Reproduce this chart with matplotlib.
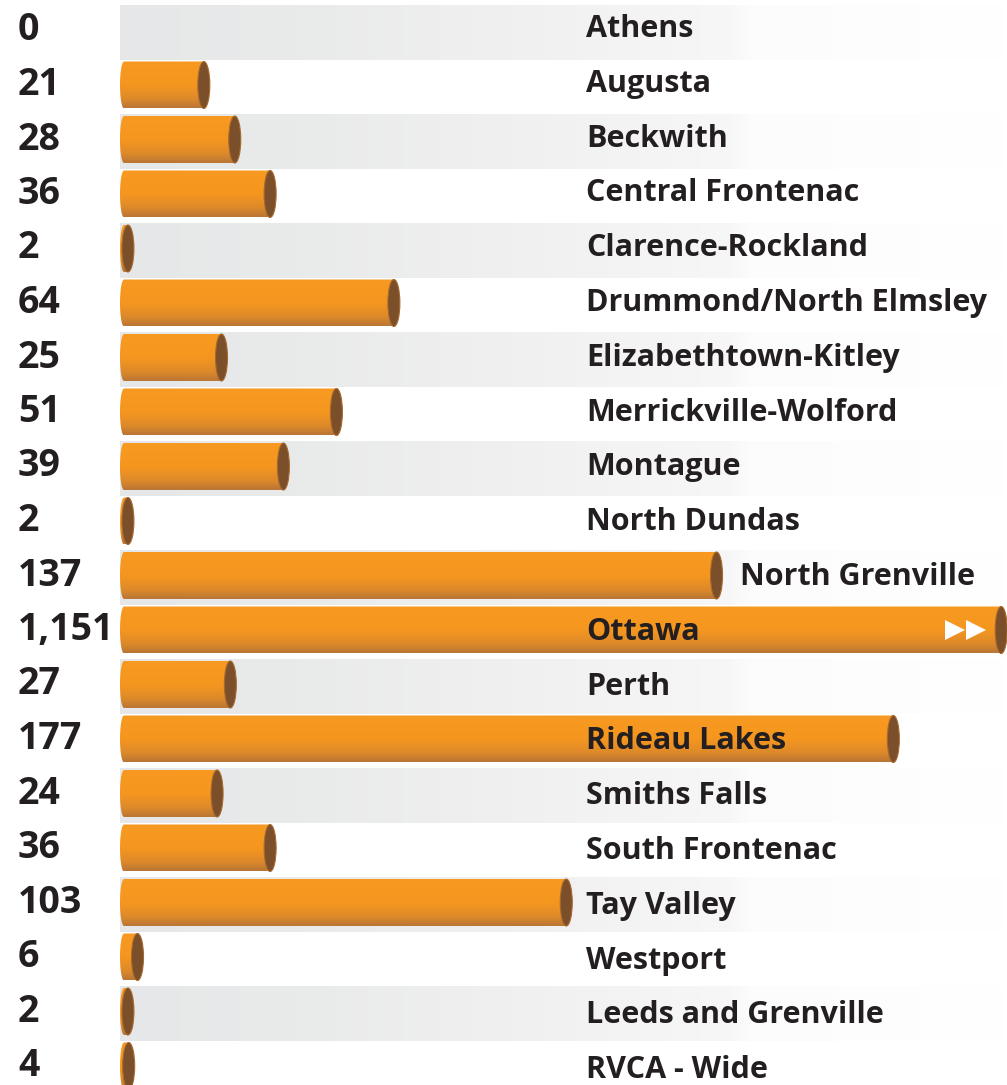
import numpy as np
import matplotlib
matplotlib.use("Agg")
import matplotlib.pyplot as plt
from matplotlib.patches import Ellipse, PathPatch
from matplotlib.path import Path
from matplotlib.colors import LinearSegmentedColormap

# data
names = ["Athens", "Augusta", "Beckwith", "Central Frontenac", "Clarence-Rockland",
         "Drummond/North Elmsley", "Elizabethtown-Kitley", "Merrickville-Wolford",
         "Montague", "North Dundas", "North Grenville", "Ottawa", "Perth",
         "Rideau Lakes", "Smiths Falls", "South Frontenac", "Tay Valley",
         "Westport", "Leeds and Grenville", "RVCA - Wide"]
counts = [0, 21, 28, 36, 2, 64, 25, 51, 39, 2, 137, 1151, 27, 177, 24, 36, 103, 6, 2, 4]
value_labels = ["0", "21", "28", "36", "2", "64", "25", "51", "39", "2", "137", "1,151",
                "27", "177", "24", "36", "103", "6", "2", "4"]
axis_cap = 201.4  # bars longer than this are cut off and get the arrows

W, H = 1007, 1085
px_per_unit = 4.42    # pixels per count
zero_px = 111         # where count 0 would sit
row_px = 54.5
row0_px = 30.5

fig = plt.figure(figsize=(W / 100, H / 100), dpi=100)
ax = fig.add_axes([0, 0, 1, 1])
ax.set_xlim(-zero_px / px_per_unit, (W - zero_px) / px_per_unit)
ax.set_ylim((H - row0_px) / row_px, -row0_px / row_px)
ax.axis("off")

xmin, xmax = ax.get_xlim()
ux = 1 / px_per_unit      # one pixel in x data units
uy = 1 / row_px           # one pixel in y data units

font = "Open Sans"
text_col = "#231f20"

stripe_cmap = LinearSegmentedColormap.from_list(
    "stripe", [(0, "#e6e7e8"), (0.2, "#e9eaea"), (0.48, "#f1f1f2"),
               (0.69, "#f7f7f7"), (0.71, "#fcfcfc"), (1, "#ffffff")])
bar_cmap = LinearSegmentedColormap.from_list(
    "bar", [(0, "#f89a21"), (0.5, "#f5961f"), (0.8, "#de8a2a"), (1, "#b97636")])

grad_h = np.linspace(0, 1, 512).reshape(1, -1)
grad_v = np.linspace(0, 1, 128).reshape(-1, 1)

start = 9 * ux            # bars begin at x = 120 px
bar_h = 47 * uy
cap_w = 12 * ux
left_r = 4 * ux

for i, (name, v, lab) in enumerate(zip(names, counts, value_labels)):
    # alternating grey stripe fading to the right
    if i % 2 == 0:
        ax.imshow(grad_h, cmap=stripe_cmap, aspect="auto", zorder=0,
                  extent=[start, xmax, i + 0.5 + 2 * uy, i - 0.5 + 2 * uy],
                  interpolation="bilinear")

    shown = min(v, axis_cap)
    top, bot = i - bar_h / 2, i + bar_h / 2
    if v > 0:
        end = max(shown, start + 3.5 * ux + 1.0)
        # bar body with a rounded left end
        t = np.linspace(np.pi / 2, 3 * np.pi / 2, 20)
        arc = [(start + left_r + left_r * np.cos(a), i - (bar_h / 2) * np.sin(a)) for a in t]
        verts = [(end, top)] + arc + [(end, bot), (end, top)]
        codes = [Path.MOVETO] + [Path.LINETO] * (len(verts) - 2) + [Path.CLOSEPOLY]
        clip = PathPatch(Path(verts, codes), facecolor="none", edgecolor="none")
        ax.add_patch(clip)
        im = ax.imshow(grad_v, cmap=bar_cmap, aspect="auto", zorder=2,
                       extent=[start, end, bot, top], interpolation="bilinear")
        im.set_clip_path(clip)
        # end cap
        ax.add_patch(Ellipse((end, i), cap_w, bar_h, facecolor="#7a4f29",
                             edgecolor="#a8692d", lw=0.8, zorder=3))
    else:
        end = start

    if v > axis_cap:
        for xa in (191.0, 195.8):
            ax.plot(xa, i, marker=">", color="white", markersize=14,
                    markeredgewidth=0, zorder=4)

    # value on the left
    ax.text(xmin + 18 * ux, i + 10 * uy, lab, fontsize=27, fontweight="bold",
            family=font, color=text_col, ha="left", va="baseline", zorder=5)

    # name: default column, or just after the bar if it runs into that column
    lx = xmin + 586 * ux
    bar_end = end + cap_w / 2
    if bar_end > lx - 8 * ux and bar_end + 20 * ux + 250 * ux < xmax:
        lx = bar_end + 17 * ux
    ax.text(lx, i + (6.5 + 0.3 * i) * uy, name, fontsize=22, fontweight="bold",
            family=font, color=text_col, ha="left", va="baseline", zorder=5)

fig.savefig("out.png", dpi=100)
